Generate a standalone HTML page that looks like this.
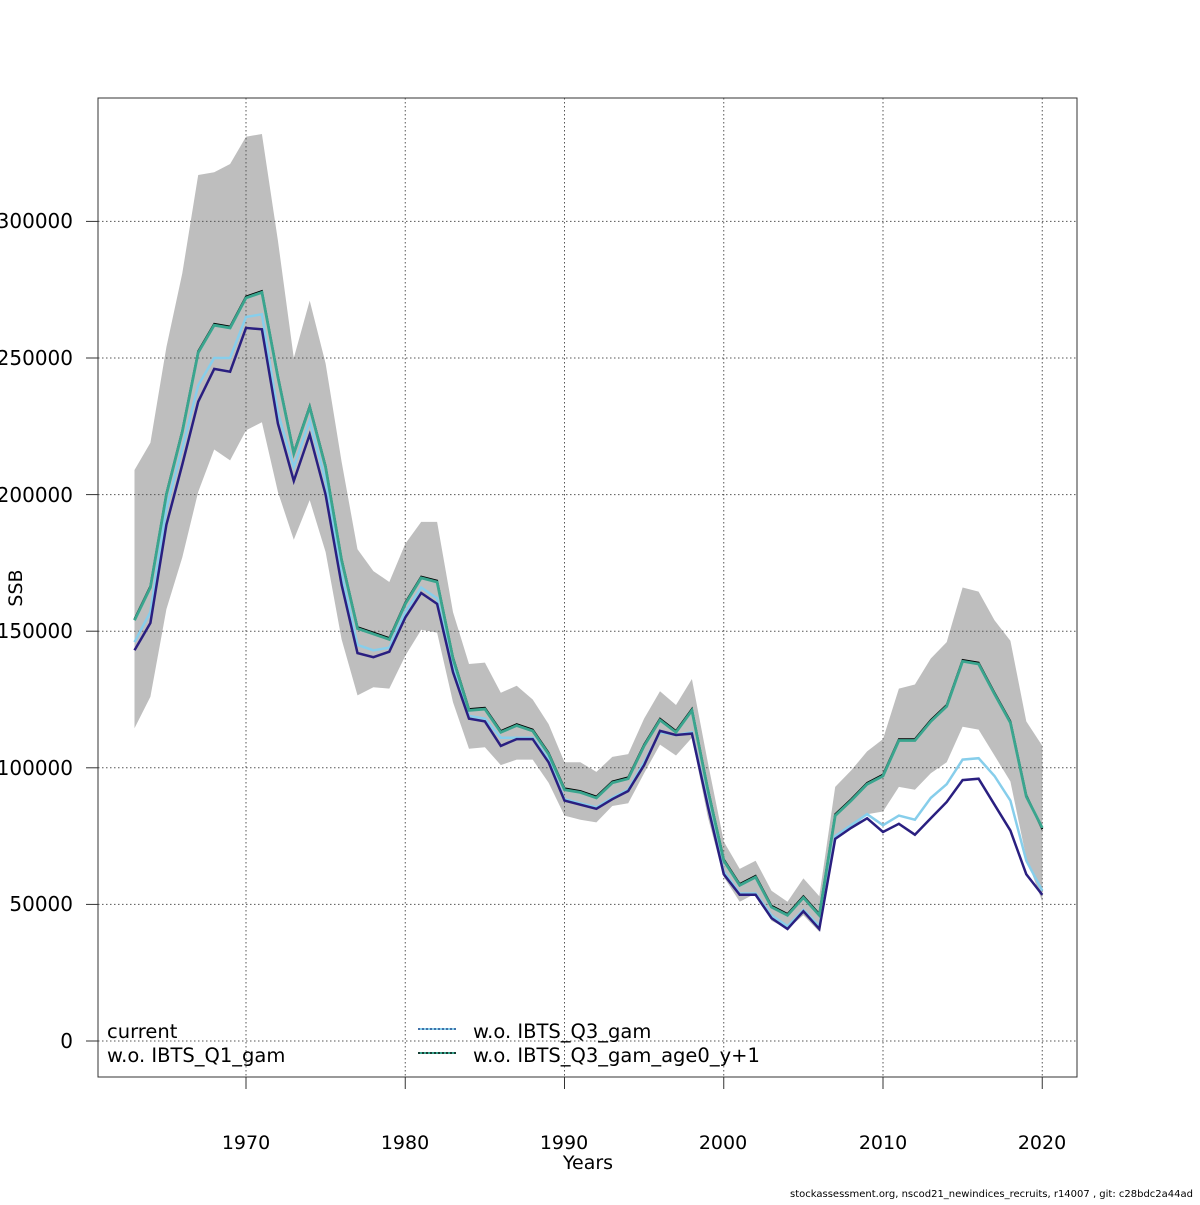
<!DOCTYPE html>
<html><head><meta charset="utf-8"><style>
body{margin:0;background:#fff}
svg text{font-family:"DejaVu Sans","Liberation Sans",sans-serif;fill:#000}
</style></head><body>
<svg id="s" width="1200" height="1200" xmlns="http://www.w3.org/2000/svg">
<path id="band" fill="#bebebe" stroke="none"/>
<g id="grid" stroke="#555" stroke-width="1" stroke-dasharray="1.5,2.5"></g>
<path id="lb" fill="none" stroke="#87ceeb" stroke-width="2.5"/>
<path id="nv" fill="none" stroke="#2a1f80" stroke-width="2.5"/>
<path id="bk" fill="none" stroke="#000" stroke-width="2" transform="translate(0,-1.3)"/>
<path id="tl" fill="none" stroke="#3aa58e" stroke-width="2.8"/>
<rect x="98" y="98" width="979" height="979" fill="none" stroke="#333" stroke-width="1"/>
<g id="ticks" stroke="#333" stroke-width="1"></g>
<g font-size="20" text-anchor="end">
<text x="73" y="228">300000</text><text x="73" y="365">250000</text><text x="73" y="502">200000</text>
<text x="73" y="638">150000</text><text x="73" y="775">100000</text><text x="73" y="911">50000</text><text x="73" y="1048">0</text>
</g>
<g font-size="19" text-anchor="middle">
<text x="246" y="1149">1970</text><text x="405" y="1149">1980</text><text x="564" y="1149">1990</text>
<text x="723" y="1149">2000</text><text x="883" y="1149">2010</text><text x="1042" y="1149">2020</text>
<text x="588" y="1169">Years</text>
<text transform="translate(22,588) rotate(-90)">SSB</text>
</g>
<g font-size="19.5">
<text x="107" y="1038">current</text>
<text x="107" y="1062">w.o. IBTS_Q1_gam</text>
<text x="473" y="1038">w.o. IBTS_Q3_gam</text>
<text x="473" y="1062">w.o. IBTS_Q3_gam_age0_y+1</text>
</g>
<line x1="418" y1="1029" x2="456" y2="1029" stroke="#87ceeb" stroke-width="2"/>
<line x1="418" y1="1029" x2="456" y2="1029" stroke="#1a3a80" stroke-width="1.2" stroke-dasharray="2,2"/>
<line x1="418" y1="1053" x2="456" y2="1053" stroke="#3aa58e" stroke-width="2"/>
<line x1="418" y1="1053" x2="456" y2="1053" stroke="#000" stroke-width="1.2" stroke-dasharray="2,2"/>
<text x="1193" y="1197" font-size="10" text-anchor="end">stockassessment.org, nscod21_newindices_recruits, r14007 , git: c28bdc2a44ad</text>
</svg>
<script>
var X=y=>246+(y-1970)*15.925;
var tl=[154,166,200,223,252,262,261,272,274,243,215,232,210,176,151,149,147,160,169.5,168,140,121,121.5,113,115.5,113.5,105,92,91,89,94.5,96,108,117.5,113,121,92,66,57,60,49,46,52.5,46,82.5,88,94,97,110,110,117,122.5,139,138,127,116.5,89.5,78];
var nv=[143,153,189,211,234,246,245,261,260.5,226,205,222,200,167,142,140.5,142.5,155,164,160,135,118,117,108,110.5,110.5,102,88,86.5,85,88.5,91.5,101,113.5,112,112.5,86,61,53.5,53.5,45,41,47.5,41,74,78,81.5,76.5,79.5,75.5,81.5,87.5,95.5,96,86.5,77,61,53.5];
var lb=[146,157,195,217,240,250,250,265,266,230,210,227,205,171,145,143,144,157,166,162,137,119,118,111,111,111,103,88.5,87,85.5,89,92,102,113,112,113,87,62,54,54,46,42,48,42,75,79,83,79,82.5,81,89,94,103,103.5,97,88,66,55];
var up=[209,219,254,281,317,318,321,331,332,293,250,271,248,212,180,172,168,182,190,190,157,138,138.5,127.5,130,125,116,102,102,98.5,104,105,118,128,123,132.5,102,73,63,66,55,51,59.5,53,93,99,106,110.5,129,130.5,140,146,166,164.5,154,146.5,117,108];
var lo=[114.5,126,158,177,201,216.5,212.5,223.5,226.5,201,183.5,198,179,147,126.5,129.5,129,141,150.5,149.5,124,107,107.5,101,103,103,94.5,82.5,81,80,86,87,98,108.5,104.5,111,82,60,51,54,44,41,46,40,73.5,77.5,83,84,93,92,98,102,115,114,104.5,95,67,51];
function PY(a){return a.map((v,i)=>(i?'L':'M')+X(1963+i).toFixed(1)+','+(1041-v*2.732).toFixed(1)).join('');}
document.getElementById('band').setAttribute('d',PY(up)+lo.slice().reverse().map((v,i)=>'L'+X(2020-i).toFixed(1)+','+(1041-v*2.732).toFixed(1)).join('')+'Z');
document.getElementById('tl').setAttribute('d',PY(tl));
var bk=tl.slice();bk[57]=77;
document.getElementById('bk').setAttribute('d',PY(bk));
document.getElementById('nv').setAttribute('d',PY(nv));
document.getElementById('lb').setAttribute('d',PY(lb));
var g=document.getElementById('grid'),t=document.getElementById('ticks'),h='',k='';
for(var yr=1970;yr<=2020;yr+=10){var x=X(yr);h+='<line x1="'+x+'" y1="98" x2="'+x+'" y2="1077"/>';k+='<line x1="'+x+'" y1="1077" x2="'+x+'" y2="1089"/>';}
for(var v=0;v<=300;v+=50){var y=1041-v*2.732;h+='<line x1="98" y1="'+y+'" x2="1077" y2="'+y+'"/>';k+='<line x1="86" y1="'+y+'" x2="98" y2="'+y+'"/>';}
g.innerHTML=h;t.innerHTML=k;
</script>
</body></html>
